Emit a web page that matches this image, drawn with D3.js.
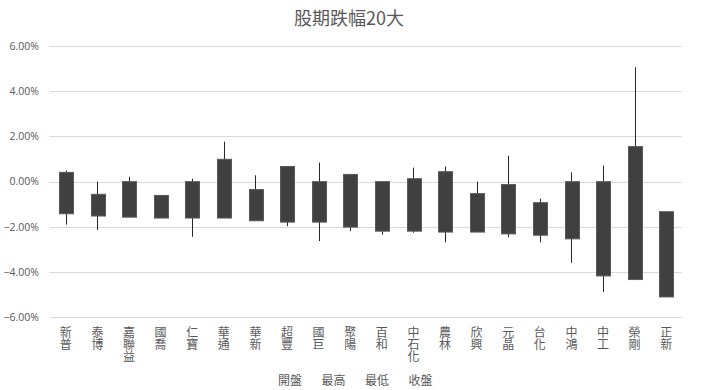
<!DOCTYPE html>
<meta charset="utf-8">
<style type="text/css">
	body { margin: 0; background: #fff; }
	.grid line { stroke: #d9d9d9; stroke-width: 1; }
	.ylab { font-family: "Open Sans", sans-serif; font-size: 10.5px; fill: #595959; }
	.cat { font-family: "Noto Sans CJK TC", sans-serif; font-size: 12px; fill: #595959; }
	.vcat { writing-mode: vertical-rl; text-orientation: upright; }
	.title { font-family: "Noto Sans CJK TC", sans-serif; font-size: 18px; fill: #595959; }
	.wick { stroke: #262626; stroke-width: 1; }
	.body { fill: #404040; stroke: #595959; stroke-width: 1; }
</style>
<svg width="701" height="390"></svg>
<script src="https://d3js.org/d3.v7.min.js"></script>
<script type="text/javascript">
	var names = ["新普","泰博","嘉聯益","國喬","仁寶","華通","華新","超豐","國巨","聚陽",
	             "百和","中石化","農林","欣興","元晶","台化","中鴻","中工","榮剛","正新"];
	// percent values
	var open  = [0.41,-0.56,0.00,-0.61,0.00,0.99,-0.35,0.67,0.00,0.32,
	             0.00,0.13,0.44,-0.53,-0.13,-0.93,0.00,0.00,1.55,-1.33];
	var high  = [0.49,0.00,0.22,-0.61,0.13,1.77,0.28,0.67,0.84,0.32,
	             0.00,0.62,0.67,0.00,1.15,-0.75,0.41,0.71,5.06,-1.33];
	var low   = [-1.90,-2.14,-1.57,-1.61,-2.44,-1.61,-1.73,-1.97,-2.63,-2.19,
	             -2.35,-2.26,-2.68,-2.23,-2.46,-2.68,-3.59,-4.88,-4.33,-5.10];
	var close = [-1.42,-1.52,-1.57,-1.61,-1.61,-1.61,-1.73,-1.79,-1.79,-2.01,
	             -2.19,-2.19,-2.23,-2.23,-2.31,-2.37,-2.53,-4.17,-4.33,-5.10];
	var yTicks = [-6,-4,-2,0,2,4,6];
	var legendItems = ["開盤","最高","最低","收盤"];

	var svg = d3.select("svg");

	var data = names.map(function(n, i){
		return {name: n, open: open[i]/100, high: high[i]/100, low: low[i]/100, close: close[i]/100};
	});

	var x = d3.scaleBand().domain(names).range([50, 682]);
	var y = d3.scaleLinear().domain([-0.06, 0.06]).range([317.3, 46]);
	var fmt = d3.format(".2%");
	var bw = x.bandwidth() * 0.43;

	svg.append("text").attr("class","title").attr("x", 349).attr("y", 25)
		.attr("text-anchor","middle").text("股期跌幅20大");

	var grid = svg.append("g").attr("class","grid");
	grid.selectAll("line").data(yTicks).enter().append("line")
		.attr("x1", 50).attr("x2", 682)
		.attr("y1", function(d){ return Math.round(y(d/100)) + 0.5; })
		.attr("y2", function(d){ return Math.round(y(d/100)) + 0.5; });

	svg.append("g").selectAll("text").data(yTicks).enter().append("text")
		.attr("class","ylab").attr("x", 39).attr("text-anchor","end")
		.attr("y", function(d){ return y(d/100) + 3.8; })
		.text(function(d){ return fmt(d/100); });

	var cx = function(d){ return x(d.name) + x.bandwidth()/2; };

	svg.append("g").selectAll("line").data(data).enter().append("line")
		.attr("class","wick")
		.attr("x1", function(d){ return Math.round(cx(d)) + 0.5; })
		.attr("x2", function(d){ return Math.round(cx(d)) + 0.5; })
		.attr("y1", function(d){ return y(d.high); })
		.attr("y2", function(d){ return y(d.low); });

	svg.append("g").selectAll("rect").data(data).enter().append("rect")
		.attr("class","body")
		.attr("x", function(d){ return Math.round(cx(d) - bw/2) + 0.5; })
		.attr("width", Math.round(bw))
		.attr("y", function(d){ return y(Math.max(d.open, d.close)); })
		.attr("height", function(d){ return Math.max(1, y(Math.min(d.open, d.close)) - y(Math.max(d.open, d.close))); });

	// category labels stacked vertically, one text per label
	svg.append("g").selectAll("text").data(names).enter().append("text")
		.attr("class","cat vcat")
		.attr("x", function(d){ return x(d) + x.bandwidth()/2; })
		.attr("y", 326)
		.text(function(d){ return d; });

	svg.append("g").selectAll("text").data(legendItems).enter().append("text")
		.attr("class","cat").attr("x", function(d, i){ return 278 + i * 43.5; })
		.attr("y", 385).text(function(d){ return d; });
</script>
